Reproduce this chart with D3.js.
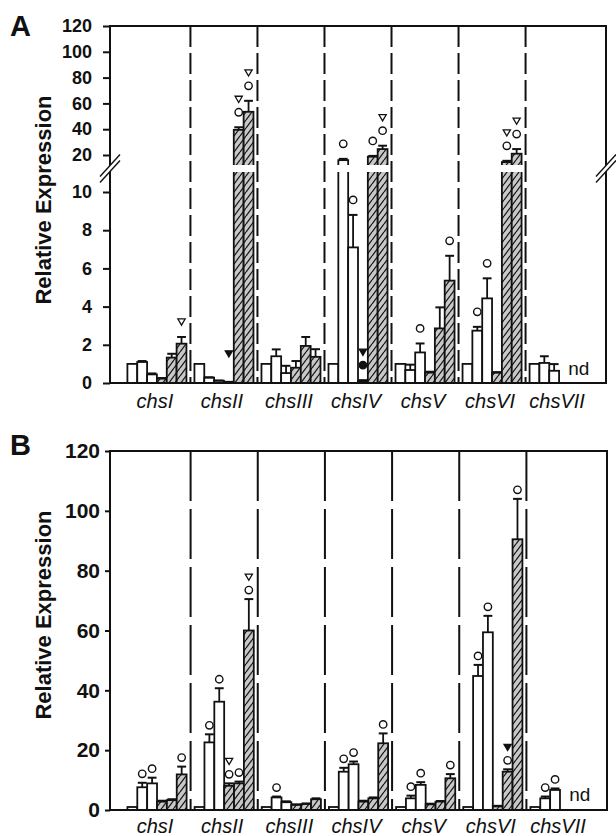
<!DOCTYPE html>
<html>
<head>
<meta charset="utf-8">
<script src="https://cdn.jsdelivr.net/npm/d3@7"></script>
<style>
  body { margin: 0; background: #fff; }
  text { font-family: "Liberation Sans", Arial, sans-serif; }
</style>
</head>
<body>
<svg id="chart" width="616" height="836"></svg>
<script>
// ---- data ----
const genes = ["chsI", "chsII", "chsIII", "chsIV", "chsV", "chsVI", "chsVII"];
const series = ["w1", "w2", "w3", "h1", "h2", "h3"];   // 3 open + 3 hatched bars per gene
const ticksLowA = [0, 2, 4, 6, 8, 10];
const ticksHighA = [20, 40, 60, 80, 100, 120];
const ticksB = [0, 20, 40, 60, 80, 100, 120];

const valuesA = [
  [1.0, 1.1, 0.45, 0.23, 1.33, 2.06],
  [1.0, 0.28, 0.12, 0.05, 39.5, 53.5],
  [1.0, 1.4, 0.52, 0.8, 1.94, 1.37],
  [1.0, 16, 7.1, 0.1, 18.7, 24.6],
  [1.0, 0.68, 1.6, 0.54, 2.86, 5.36],
  [1.0, 2.74, 4.43, 0.54, 14.5, 21],
  [1.0, 1.05, 0.64, null, null, null]
];
const errorsA = [
  [0, 0.05, 0.05, 0.03, 0.2, 0.35],
  [0, 0.02, 0.01, 0.01, 2, 8.5],
  [0, 0.36, 0.38, 0.35, 0.47, 0.4],
  [0, 1, 1.7, 0.05, 0.6, 2.6],
  [0, 0.28, 0.47, 0.05, 1.1, 1.3],
  [0, 0.2, 1.05, 0.03, 1, 3.6],
  [0, 0.35, 0.35, null, null, null]
];
// o open circle, O filled circle, v open triangle, V filled triangle, _ empty slot
const marksA = [
  ["", "", "", "", "", "v"],
  ["", "", "", "_V", "ov", "ov"],
  ["", "", "", "", "", ""],
  ["", "o", "o", "OV", "o", "ov"],
  ["", "", "o", "", "", "o"],
  ["", "o", "o", "", "ov", "ov"],
  ["", "", "", "", "", ""]
];

const valuesB = [
  [1, 7.6, 8.9, 2.8, 3.3, 11.9],
  [1, 22.6, 36.2, 8.1, 8.9, 60],
  [1, 4.2, 2.6, 1.7, 2.0, 3.6],
  [1, 12.8, 15.3, 2.8, 3.9, 22.3],
  [1, 3.9, 8.4, 1.9, 2.8, 10.6],
  [1, 44.8, 59.4, 1.2, 12.8, 90.5],
  [1, 3.9, 6.7, null, null, null]
];
const errorsB = [
  [0, 1.5, 1.9, 0.3, 0.3, 2.6],
  [0, 2.7, 4.5, 0.8, 0.6, 10.5],
  [0, 0.3, 0.3, 0.2, 0.2, 0.3],
  [0, 1.3, 0.9, 0.3, 0.3, 3.3],
  [0, 0.9, 0.9, 0.2, 0.2, 1.4],
  [0, 3.7, 5.5, 0.2, 0.8, 13.5],
  [0, 0.6, 0.5, null, null, null]
];
const marksB = [
  ["", "o", "o", "", "", "o"],
  ["", "o", "o", "ov", "o", "ov"],
  ["", "o", "", "", "", ""],
  ["", "o", "o", "", "", "o"],
  ["", "o", "o", "", "", "o"],
  ["", "o", "o", "", "oV", "o"],
  ["", "o", "o", "", "", ""]
];

// ---- drawing ----
const svg = d3.select('#chart');
const defs = svg.append('defs');

defs.append('pattern')
    .attr('id', 'hatch')
    .attr('patternUnits', 'userSpaceOnUse')
    .attr('width', 6).attr('height', 8)
    .call(p => {
        p.append('rect').attr('width', 6).attr('height', 8).attr('fill', '#c8c8c8');
        p.append('path').attr('d', 'M-6,8L0,0M0,8L6,0M6,8L12,0')
            .attr('stroke', '#1a1a1a').attr('stroke-width', 1.3);
    });

const fill = d3.scaleOrdinal().domain(series)
    .range(['#fff', '#fff', '#fff', 'url(#hatch)', 'url(#hatch)', 'url(#hatch)']);

function toRows(values, errors, marks) {
    let rows = [];
    genes.forEach((g, i) => series.forEach((s, j) => {
        if (values[i][j] != null)
            rows.push({gene: g, s: s, v: values[i][j], e: errors[i][j], m: marks[i][j]});
    }));
    return rows;
}

function drawMarkers(g, rows, x0, x1, capY, off0, step) {
    let bw = x1.bandwidth();
    rows.forEach(d => {
        let cx = x0(d.gene) + x1(d.s) + bw / 2;
        d.m.split('').forEach((c, i) => {
            let cy = capY(d) - off0 - i * step;
            if (c === 'o' || c === 'O') {
                g.append('circle').attr('cx', cx).attr('cy', cy).attr('r', 3.7)
                    .attr('fill', c === 'O' ? '#111' : '#fff')
                    .attr('stroke', '#111').attr('stroke-width', 1.4);
            } else if (c === 'v' || c === 'V') {
                g.append('path')
                    .attr('d', `M${cx - 3.6},${cy - 3}L${cx + 3.6},${cy - 3}L${cx},${cy + 3.2}Z`)
                    .attr('fill', c === 'V' ? '#111' : '#fff')
                    .attr('stroke', '#111').attr('stroke-width', 1.3);
            }
        });
    });
}

function drawErrors(g, rows, x0, x1, yTop, yErr) {
    let bw = x1.bandwidth();
    rows.filter(d => d.e > 0).forEach(d => {
        let cx = x0(d.gene) + x1(d.s) + bw / 2;
        let y1 = yTop(d), y2 = yErr(d);
        g.append('line').attr('x1', cx).attr('x2', cx).attr('y1', y1).attr('y2', y2)
            .attr('stroke', '#111').attr('stroke-width', 1.8);
        g.append('line').attr('x1', cx - bw * 0.45).attr('x2', cx + bw * 0.45)
            .attr('y1', y2).attr('y2', y2)
            .attr('stroke', '#111').attr('stroke-width', 2);
    });
}

function styleAxis(g, size) {
    g.select('.domain').remove();
    g.selectAll('.tick line').attr('stroke', '#111').attr('stroke-width', 2);
    g.selectAll('.tick text').attr('font-size', size).attr('font-weight', 'bold').attr('fill', '#111');
}

function drawFrame(g, left, right, top, bottom) {
    g.append('path')
        .attr('d', `M${left},${top}H${right}V${bottom}H${left}Z`)
        .attr('fill', 'none').attr('stroke', '#111').attr('stroke-width', 2);
}

function drawDashes(g, x0, top, bottom, dash) {
    g.selectAll('line.sep').data(genes.slice(1)).join('line')
        .classed('sep', true)
        .attr('x1', d => x0(d)).attr('x2', d => x0(d))
        .attr('y1', top).attr('y2', bottom)
        .attr('stroke', '#111').attr('stroke-width', 2)
        .attr('stroke-dasharray', dash);
}

function drawGeneLabels(g, x0, y) {
    g.selectAll('text.gene').data(genes).join('text')
        .classed('gene', true)
        .attr('x', d => x0(d) + x0.bandwidth() / 2 - 2)
        .attr('y', y)
        .attr('text-anchor', 'middle')
        .attr('font-size', 20).attr('font-style', 'italic').attr('fill', '#111')
        .text(d => d);
}

function drawTitle(g, cy, letter, letterY) {
    g.append('text')
        .attr('transform', `translate(51,${cy}) rotate(-90)`)
        .attr('text-anchor', 'middle')
        .attr('font-size', 22).attr('font-weight', 'bold').attr('fill', '#111')
        .text('Relative Expression');
    g.append('text').attr('x', 10).attr('y', letterY)
        .attr('font-size', 29).attr('font-weight', 'bold').attr('fill', '#111')
        .text(letter);
}

// ===== Panel A (broken axis) =====
(function panelA() {
    const left = 110, right = 606, top = 26, bottom = 383;
    const loTop = 172, hiBottom = 165;
    const g = svg.append('g');
    const x0 = d3.scaleBand().domain(genes).range([left, right]).paddingOuter(0.2);
    const x1 = d3.scaleBand().domain(series).range([4, x0.bandwidth() - 4]);
    const yLo = d3.scaleLinear().domain([0, 10]).range([bottom, 192]);
    const yHi = d3.scaleLinear().domain([20, 120]).range([155, top]);
    const breakVal = yLo.invert(loTop);
    const yv = v => v > breakVal ? yHi(v) : yLo(v);

    defs.append('clipPath').attr('id', 'clipLo')
        .append('rect').attr('x', 0).attr('y', loTop).attr('width', 616).attr('height', 240);
    defs.append('clipPath').attr('id', 'clipHi')
        .append('rect').attr('x', 0).attr('y', 0).attr('width', 616).attr('height', hiBottom);

    drawDashes(g, x0, top, bottom, '21,6');

    const rows = toRows(valuesA, errorsA, marksA);
    const bw = x1.bandwidth();

    g.append('g').attr('clip-path', 'url(#clipLo)')
        .selectAll('rect').data(rows).join('rect')
        .attr('x', d => x0(d.gene) + x1(d.s))
        .attr('width', bw)
        .attr('y', d => d.v > breakVal ? loTop - 10 : yLo(d.v))
        .attr('height', d => yLo(0) - (d.v > breakVal ? loTop - 10 : yLo(d.v)))
        .attr('fill', d => fill(d.s))
        .attr('stroke', '#111').attr('stroke-width', 1.8);

    g.append('g').attr('clip-path', 'url(#clipHi)')
        .selectAll('rect').data(rows.filter(d => d.v > breakVal)).join('rect')
        .attr('x', d => x0(d.gene) + x1(d.s))
        .attr('width', bw)
        .attr('y', d => yHi(d.v))
        .attr('height', d => hiBottom + 10 - yHi(d.v))
        .attr('fill', d => fill(d.s))
        .attr('stroke', '#111').attr('stroke-width', 1.8);

    drawErrors(g, rows, x0, x1, d => yv(d.v), d => yv(d.v + d.e));
    drawMarkers(g, rows, x0, x1, d => yv(d.v + d.e), 15, 13);

    // "nd" for the missing chsVII bars
    g.append('text')
        .attr('x', x0('chsVII') + x1(series[4]) + bw)
        .attr('y', 375)
        .attr('text-anchor', 'middle').attr('font-size', 19).attr('fill', '#111')
        .text('nd');

    drawFrame(g, left, right, top, bottom);

    const axLo = g.append('g').attr('transform', `translate(${left},0)`)
        .call(d3.axisLeft(yLo).tickValues(ticksLowA).tickSize(7).tickPadding(11));
    styleAxis(axLo, 18);
    const axHi = g.append('g').attr('transform', `translate(${left},0)`)
        .call(d3.axisLeft(yHi).tickValues(ticksHighA).tickSize(7).tickPadding(11));
    styleAxis(axHi, 18);

    // break marks on both vertical edges
    const mid = (loTop + hiBottom) / 2;
    [left, right].forEach(xe => {
        g.append('path')
            .attr('d', `M${xe - 10},${mid + 14}L${xe + 10},${mid - 8}L${xe + 10},${mid - 14}L${xe - 10},${mid + 8}Z`)
            .attr('fill', '#fff');
        [-3, 3].forEach(dy => {
            g.append('line')
                .attr('x1', xe - 10).attr('y1', mid + dy + 11)
                .attr('x2', xe + 10).attr('y2', mid + dy - 11)
                .attr('stroke', '#111').attr('stroke-width', 1.4);
        });
    });

    drawGeneLabels(g, x0, 408);
    drawTitle(g, 200, 'A', 36);
})();

// ===== Panel B =====
(function panelB() {
    const left = 110, right = 607, top = 451, bottom = 810;
    const g = svg.append('g');
    const x0 = d3.scaleBand().domain(genes).range([left, right]).paddingOuter(0.2);
    const x1 = d3.scaleBand().domain(series).range([4, x0.bandwidth() - 4]);
    const y = d3.scaleLinear().domain([0, 120]).range([bottom, top]);
    const bw = x1.bandwidth();

    drawDashes(g, x0, top, bottom, '50,8');

    const rows = toRows(valuesB, errorsB, marksB);

    g.append('g').selectAll('rect').data(rows).join('rect')
        .attr('x', d => x0(d.gene) + x1(d.s))
        .attr('width', bw)
        .attr('y', d => y(d.v))
        .attr('height', d => y(0) - y(d.v))
        .attr('fill', d => fill(d.s))
        .attr('stroke', '#111').attr('stroke-width', 1.8);

    drawErrors(g, rows, x0, x1, d => y(d.v), d => y(d.v + d.e));
    drawMarkers(g, rows, x0, x1, d => y(d.v + d.e), 9, 13);

    g.append('text')
        .attr('x', x0('chsVII') + x1(series[4]) + bw)
        .attr('y', 801)
        .attr('text-anchor', 'middle').attr('font-size', 19).attr('fill', '#111')
        .text('nd');

    drawFrame(g, left, right, top, bottom);

    const ax = g.append('g').attr('transform', `translate(${left},0)`)
        .call(d3.axisLeft(y).tickValues(ticksB).tickSize(5).tickPadding(5));
    styleAxis(ax, 21);

    drawGeneLabels(g, x0, 833);
    drawTitle(g, 615, 'B', 455);
})();
</script>
</body>
</html>
